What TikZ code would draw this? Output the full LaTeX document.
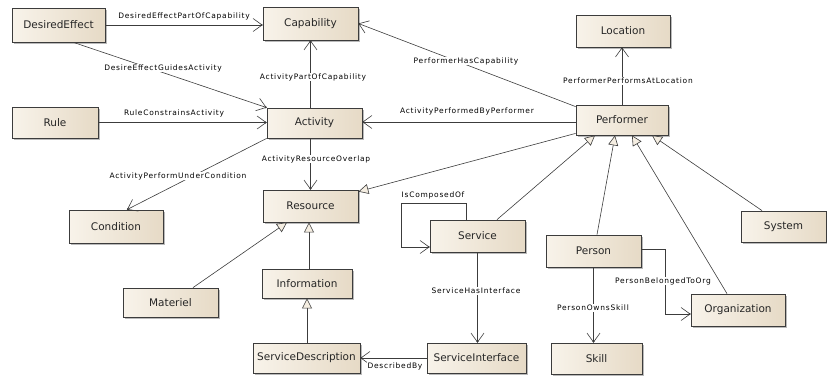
\documentclass[tikz,border=0pt]{standalone}
\usepackage{fontspec}
\setmainfont{DejaVu Sans}
\newfontfamily\lblfont{DejaVu Sans}[LetterSpace=10]
\usetikzlibrary{arrows.meta,shadows,calc}
\definecolor{boxL}{HTML}{F8F3EA}
\definecolor{boxR}{HTML}{E6DAC6}
\definecolor{edgecol}{HTML}{3C3C3C}
\definecolor{genfill}{HTML}{F5EEE2}

\tikzset{
  cls/.style={draw=edgecol, line width=0.8pt, left color=boxL, right color=boxR,
    font=\fontsize{10.5}{12}\selectfont, text=black!85, inner sep=0pt,
    drop shadow={shadow xshift=2pt, shadow yshift=-2pt, fill=black!45, opacity=0.6}},
  lbl/.style={font=\lblfont\fontsize{7.5}{8.5}\selectfont, fill=white, inner sep=0.8pt, text=black},
  assoc/.style={draw=edgecol, line width=0.6pt,
    -{Straight Barb[length=9pt,width=13pt,sep=-2pt]Circle[length=2pt]}},
  gen/.style={draw=edgecol, line width=0.6pt, -{Triangle[length=10pt,width=10pt,fill=genfill]}},
}

\begin{document}
\begin{tikzpicture}[x=1pt,y=-1pt]
\useasboundingbox (0,0) rectangle (827,378);

% classes
\node[cls, minimum width=93pt, minimum height=34pt] (de)     at (58.5,25)   {DesiredEffect};
\node[cls, minimum width=95pt, minimum height=33pt] (cap)    at (310.5,23.5) {Capability};
\node[cls, minimum width=94pt, minimum height=32pt] (loc)    at (623,31)    {Location};
\node[cls, minimum width=86pt, minimum height=31pt] (rule)   at (55,122.5)  {Rule};
\node[cls, minimum width=95pt, minimum height=30pt] (act)    at (314.5,123) {Activity};
\node[cls, minimum width=92pt, minimum height=30pt] (perf)   at (622,120)   {Performer};
\node[cls, minimum width=94pt, minimum height=33pt] (cond)   at (116,226.5) {Condition};
\node[cls, minimum width=95pt, minimum height=32pt] (res)    at (310.5,206) {Resource};
\node[cls, minimum width=95pt, minimum height=32pt] (serv)   at (477.5,236) {Service};
\node[cls, minimum width=85pt, minimum height=31pt] (sys)    at (783.5,226.5) {System};
\node[cls, minimum width=95pt, minimum height=32pt] (person) at (593.5,251) {Person};
\node[cls, minimum width=95pt, minimum height=29pt] (mat)    at (170.5,302.5) {Materiel};
\node[cls, minimum width=90pt, minimum height=29pt] (info)   at (307,283.5) {Information};
\node[cls, minimum width=107pt, minimum height=30pt] (sd)    at (306.5,358) {ServiceDescription};
\node[cls, minimum width=99pt, minimum height=30pt] (si)     at (476.5,358) {ServiceInterface};
\node[cls, minimum width=91pt, minimum height=31pt] (skill)  at (596.5,358.5) {Skill};
\node[cls, minimum width=94pt, minimum height=32pt] (org)    at (738,310)   {Organization};

% helper points on the class borders
\coordinate (deLow)  at ($(de.south west)!0.66!(de.south east)$);
\coordinate (pTop)   at ($(perf.north west)+(0,2)$);
\coordinate (pMid)   at ($(perf.west)+(0,2)$);
\coordinate (pLow)   at ($(perf.south west)+(0,-2)$);
\coordinate (resTip) at ($(res.north east)+(0,2)$);
\coordinate (infTop) at ($(info.north)+(2,0)$);
\coordinate (pRight) at ($(person.east)+(0,-2)$);
\coordinate (orgIn)  at ($(org.west)+(0,4)$);
\coordinate (svTop)  at ($(serv.north west)+(37,0)$);
\coordinate (svIn)   at ($(serv.west)+(0,11)$);
\coordinate (loopA)  at ($(serv.north west)+(-28,-16)$);

% associations
\draw[assoc] (de.east) -- (de.east -| cap.west);
\draw[assoc] (deLow) -- (act.north west);
\draw[assoc] (rule.east) -- (rule.east -| act.west);
\draw[assoc] (act.north -| cap.south) -- (cap.south);
\draw[assoc] (pTop) -- (cap.east);
\draw[assoc] (pMid) -- (pMid -| act.east);
\draw[assoc] (perf.north) -- (perf.north |- loc.south);
\draw[assoc] (act.south west) -- ($(cond.north)+(11,0)$);
\draw[assoc] (act.south -| res.north) -- (res.north);
\draw[assoc] (serv.south) -- (serv.south |- si.north);
\draw[assoc] (si.west) -- (si.west -| sd.east);
\draw[assoc] (person.south) -- (person.south |- skill.north);
\draw[assoc] (pRight) -| ($(orgIn)+(-25,0)$) -- (orgIn);
\draw[assoc] (svTop) |- (loopA) |- (svIn);

% generalizations
\draw[gen] (pLow) -- (resTip);
\draw[gen] ($(serv.north)+(19.5,0)$) -- ($(perf.south)+(-27,0)$);
\draw[gen] ($(person.north)+(3.5,0)$) -- ($(perf.south)+(-7,0)$);
\draw[gen] ($(org.north)+(-11,0)$) -- ($(perf.south)+(10,0)$);
\draw[gen] ($(sys.north)+(-21.5,0)$) -- ($(perf.south)+(30,0)$);
\draw[gen] ($(mat.north)+(22.5,0)$) -- ($(res.south)+(-23.5,0)$);
\draw[gen] (infTop) -- (infTop |- res.south);
\draw[gen] (sd.north -| info.south) -- (info.south);

% association names
\node[lbl] (l1)  at (184,16)  {DesiredEffectPartOfCapability};
\node[lbl] (l2)  at (163,68)  {DesireEffectGuidesActivity};
\node[lbl] (l3)  at (174,113) {RuleConstrainsActivity};
\node[lbl] (l4)  at (313,77)  {ActivityPartOfCapability};
\node[lbl] (l5)  at (466,61)  {PerformerHasCapability};
\node[lbl] (l6)  at (467,111) {ActivityPerformedByPerformer};
\node[lbl] (l7)  at (628,81)  {PerformerPerformsAtLocation};
\node[lbl] (l8)  at (178,176) {ActivityPerformUnderCondition};
\node[lbl] (l9)  at (316,159) {ActivityResourceOverlap};
\node[lbl] (l10) at (433,195) {IsComposedOf};
\node[lbl] (l11) at (476,291) {ServiceHasInterface};
\node[lbl] (l12) at (593,308) {PersonOwnsSkill};
\node[lbl] (l13) at (663,281) {PersonBelongedToOrg};
\node[lbl] (l14) at (395,366) {DescribedBy};
\end{tikzpicture}
\end{document}
